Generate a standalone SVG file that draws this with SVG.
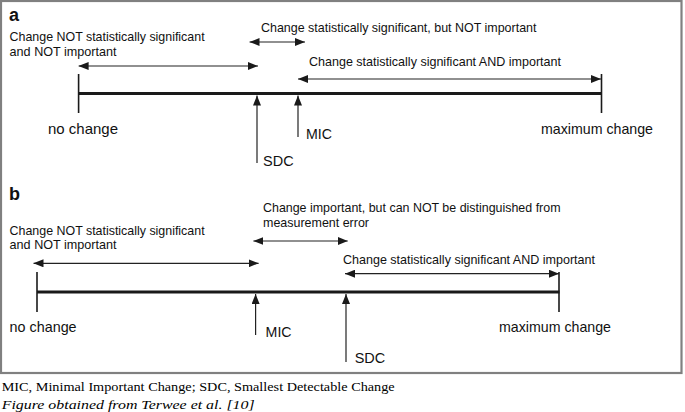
<svg xmlns="http://www.w3.org/2000/svg" width="685" height="412" viewBox="0 0 685 412">
<style>
.lbl{font-family:"Liberation Sans",Arial,sans-serif;font-size:13px;fill:#111}
.big{font-family:"Liberation Sans",Arial,sans-serif;font-size:15px;fill:#111}
.pl{font-family:"Liberation Sans",Arial,sans-serif;font-size:18px;font-weight:bold;fill:#111}
.cap{font-family:"Liberation Serif","Times New Roman",serif;font-size:13.5px;fill:#000}
.arr{stroke:#222;stroke-width:1.2;fill:none}
.main{stroke:#1a1a1a;stroke-width:3.2;fill:none}
.tick{stroke:#1a1a1a;stroke-width:1.6;fill:none}
</style>
<defs>
<marker id="ah" viewBox="0 0 10 8" refX="10" refY="4" markerWidth="10" markerHeight="8" markerUnits="userSpaceOnUse" orient="auto-start-reverse">
<path d="M0,0 L10,4 L0,8 z" fill="#1a1a1a"/>
</marker>
</defs>
<rect x="0" y="0" width="685" height="412" fill="#fff"/>
<rect id="frame" x="1" y="1" width="680.5" height="372" fill="none" stroke="#808080" stroke-width="2.2"/>

<g id="panel-a">
<text class="pl" x="9" y="20.5">a</text>
<g id="a-scale">
<line class="main" x1="78.6" y1="93.5" x2="602" y2="93.5"/>
<line class="tick" x1="78.6" y1="74" x2="78.6" y2="113"/>
<line class="tick" x1="601.5" y1="74" x2="601.5" y2="113"/>
<text class="big" x="48" y="134" textLength="70" lengthAdjust="spacingAndGlyphs">no change</text>
<text class="big" x="541" y="134" textLength="112" lengthAdjust="spacingAndGlyphs">maximum change</text>
</g>
<g id="a-sdc">
<line class="arr" x1="257" y1="163" x2="257" y2="95.5" marker-end="url(#ah)"/>
<text class="big" x="263" y="165.7" textLength="30.6" lengthAdjust="spacingAndGlyphs">SDC</text>
</g>
<g id="a-mic">
<line class="arr" x1="298" y1="137" x2="298" y2="95.5" marker-end="url(#ah)"/>
<text class="big" x="306" y="139" textLength="26" lengthAdjust="spacingAndGlyphs">MIC</text>
</g>
<g id="a-notsig">
<text class="lbl" x="9.6" y="40.7" textLength="195" lengthAdjust="spacingAndGlyphs">Change NOT statistically significant</text>
<text class="lbl" x="9.6" y="55.7" textLength="107" lengthAdjust="spacingAndGlyphs">and NOT important</text>
</g>
<g id="a-sig-notimp">
<text class="lbl" x="261" y="32.3" textLength="275.5" lengthAdjust="spacingAndGlyphs">Change statistically significant, but NOT important</text>
</g>
<g id="a-sig-imp">
<text class="lbl" x="309" y="66" textLength="252" lengthAdjust="spacingAndGlyphs">Change statistically significant AND important</text>
</g>
</g>

<g id="panel-b">
<text class="pl" x="9" y="200">b</text>
<g id="b-scale">
<line class="main" x1="37" y1="292" x2="559.5" y2="292"/>
<line class="tick" x1="37" y1="272" x2="37" y2="312"/>
<line class="tick" x1="559" y1="272" x2="559" y2="312"/>
<text class="big" x="9.6" y="331.7" textLength="67" lengthAdjust="spacingAndGlyphs">no change</text>
<text class="big" x="499" y="331.7" textLength="112" lengthAdjust="spacingAndGlyphs">maximum change</text>
</g>
<g id="b-mic">
<line class="arr" x1="255.6" y1="335" x2="255.6" y2="294" marker-end="url(#ah)"/>
<text class="big" x="265.6" y="337" textLength="26" lengthAdjust="spacingAndGlyphs">MIC</text>
</g>
<g id="b-sdc">
<line class="arr" x1="346" y1="362" x2="346" y2="294" marker-end="url(#ah)"/>
<text class="big" x="354.7" y="363" textLength="30.6" lengthAdjust="spacingAndGlyphs">SDC</text>
</g>
<g id="b-notsig">
<text class="lbl" x="9.6" y="235" textLength="195" lengthAdjust="spacingAndGlyphs">Change NOT statistically significant</text>
<text class="lbl" x="9.6" y="249" textLength="107" lengthAdjust="spacingAndGlyphs">and NOT important</text>
</g>
<g id="b-imp-noterr">
<text class="lbl" x="263" y="212.3" textLength="297.5" lengthAdjust="spacingAndGlyphs">Change important, but can NOT be distinguished from</text>
<text class="lbl" x="263" y="227.3" textLength="106" lengthAdjust="spacingAndGlyphs">measurement error</text>
</g>
<g id="b-sig-imp">
<text class="lbl" x="343" y="264" textLength="252" lengthAdjust="spacingAndGlyphs">Change statistically significant AND important</text>
</g>
</g>

<g id="connectors">
<line class="arr" x1="78.6" y1="66" x2="258" y2="66" marker-start="url(#ah)" marker-end="url(#ah)"/>
<line class="arr" x1="249.5" y1="42" x2="305" y2="42" marker-start="url(#ah)" marker-end="url(#ah)"/>
<line class="arr" x1="298" y1="79" x2="601" y2="79" marker-start="url(#ah)" marker-end="url(#ah)"/>
<line class="arr" x1="253.4" y1="241" x2="347.7" y2="241" marker-start="url(#ah)" marker-end="url(#ah)"/>
<line class="arr" x1="33.5" y1="263.3" x2="258.6" y2="263.3" marker-start="url(#ah)" marker-end="url(#ah)"/>
<line class="arr" x1="345" y1="273.7" x2="559" y2="273.7" marker-start="url(#ah)" marker-end="url(#ah)"/>
</g>

<g id="caption">
<text class="cap" x="1.7" y="390.5" textLength="393" lengthAdjust="spacingAndGlyphs">MIC, Minimal Important Change; SDC, Smallest Detectable Change</text>
<text class="cap" x="1.7" y="408.5" font-style="italic" textLength="253" lengthAdjust="spacingAndGlyphs">Figure obtained from Terwee et al. [10]</text>
</g>
</svg>
